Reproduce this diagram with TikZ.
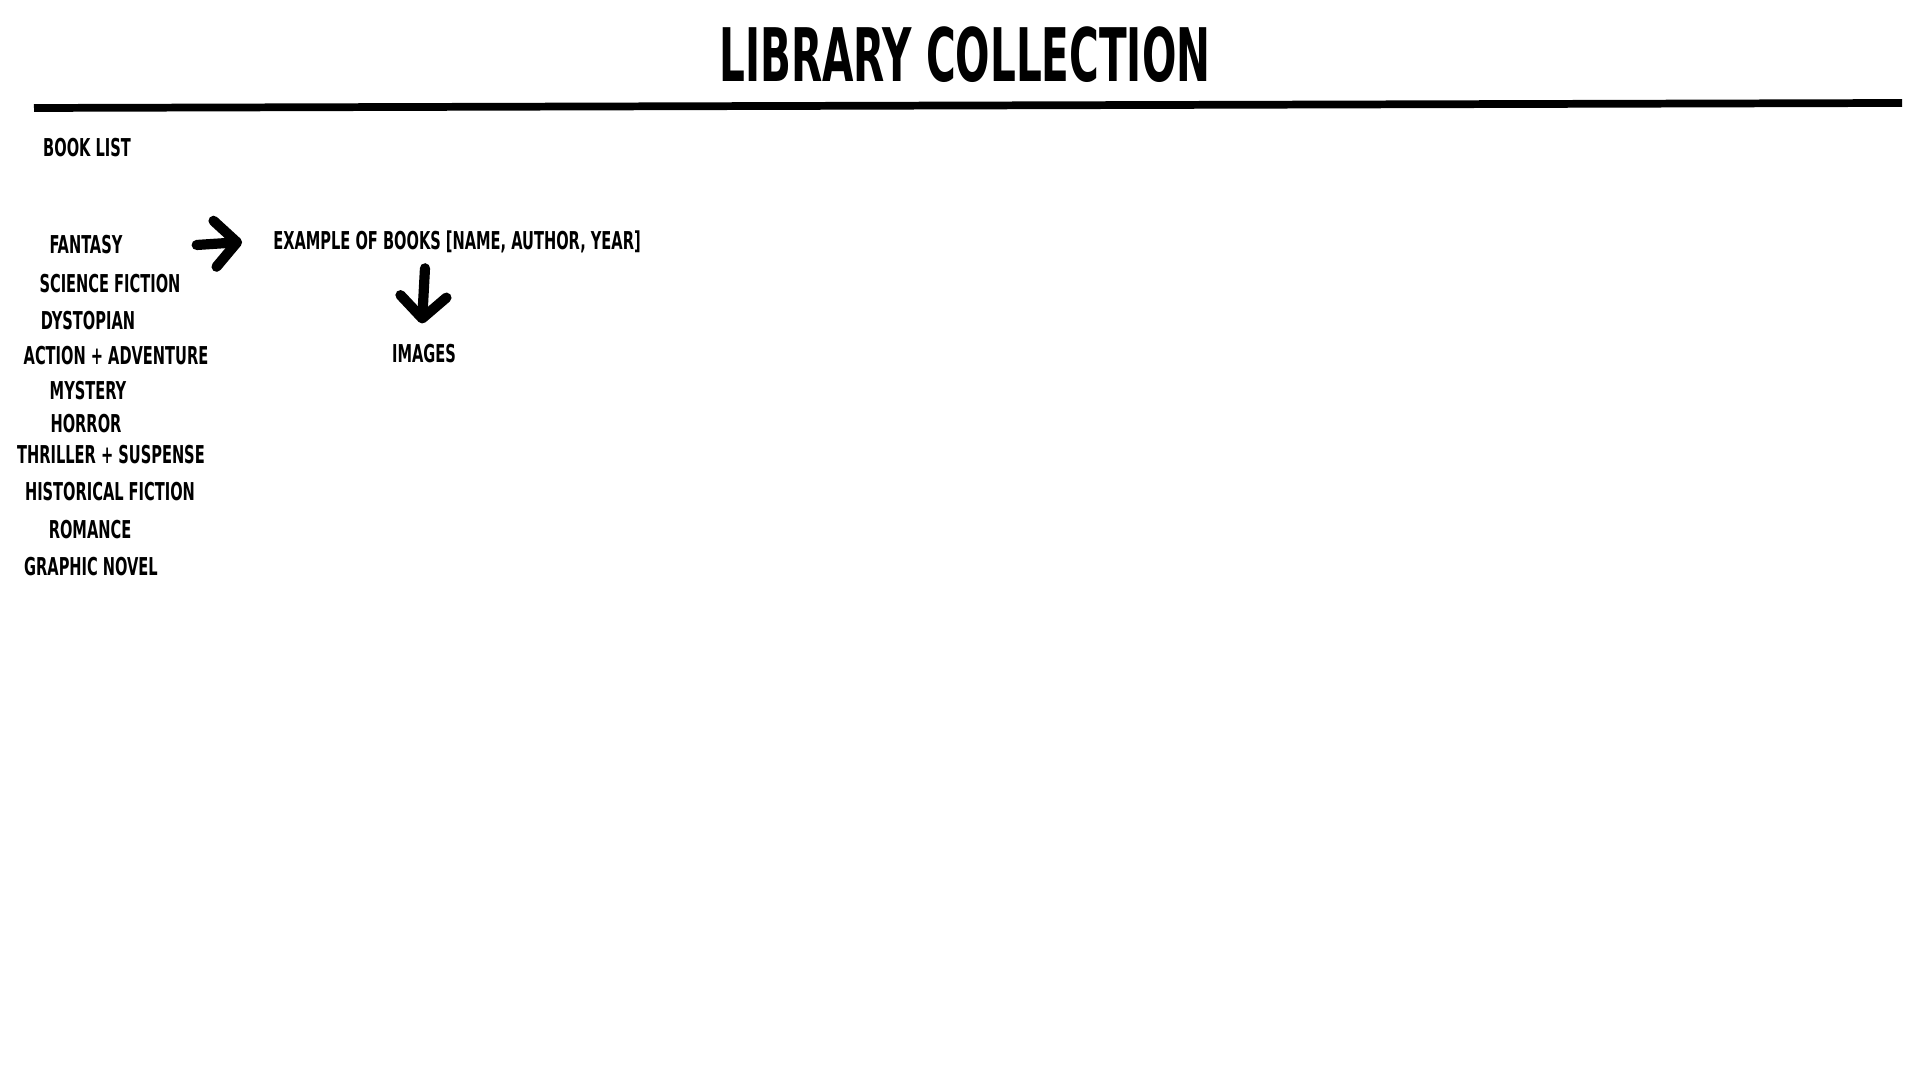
\documentclass[tikz,border=0pt]{standalone}
\usepackage{fontspec}
\usetikzlibrary{arrows.meta, positioning}
\newfontfamily\sketchfont{DejaVu Sans Condensed}[FakeStretch=0.66]
\newfontfamily\titlefont{DejaVu Sans Condensed}[FakeStretch=0.61]

\tikzset{
    genre/.style={inner sep=1pt, font=\sketchfont\bfseries\fontsize{7pt}{8pt}\selectfont},
    headline/.style={inner sep=1pt, font=\titlefont\bfseries\fontsize{21pt}{24pt}\selectfont},
    handarrow/.style={line width=2.9pt, line cap=round, line join=round,
        -{Straight Barb[length=0.22cm, width=0.46cm, round]}}
}

\begin{document}
\begin{tikzpicture}[x=0.01cm, y=-0.01cm]
    \useasboundingbox (0,0) rectangle (1920,1080);

    % title and rule
    \node[headline] (title) at (965,55) {LIBRARY COLLECTION};
    \coordinate (ruleL) at (34,108);
    \coordinate (ruleR) at (1902,103);
    \draw[line width=2.2pt] (ruleL) -- (ruleR);

    % genres
    \node[genre] (booklist) at (87,148) {BOOK LIST};
    \node[genre] (fantasy) at (86,245) {FANTASY};
    \node[genre] (scifi) at (110,284) {SCIENCE FICTION};
    \node[genre] (dystopian) at (88,321) {DYSTOPIAN};
    \node[genre] (action) at (116,356) {ACTION + ADVENTURE};
    \node[genre] (mystery) at (88,391) {MYSTERY};
    \node[genre] (horror) at (86,424) {HORROR};
    \node[genre] (thriller) at (111,455) {THRILLER + SUSPENSE};
    \node[genre] (historical) at (110,492) {HISTORICAL FICTION};
    \node[genre] (romance) at (90,530) {ROMANCE};
    \node[genre] (graphic) at (91,567) {GRAPHIC NOVEL};

    % examples
    \node[genre] (example) at (457,242) {EXAMPLE OF BOOKS [NAME, AUTHOR, YEAR]};
    \node[genre] (images) at (424,354) {IMAGES};

    \draw[handarrow] ([xshift=0.70cm]fantasy.east) -- ([xshift=-0.27cm]example.west);
    \draw[handarrow] ([xshift=-0.32cm, yshift=-0.11cm]example.south) -- ([xshift=-0.02cm, yshift=0.17cm]images.north);
\end{tikzpicture}
\end{document}
